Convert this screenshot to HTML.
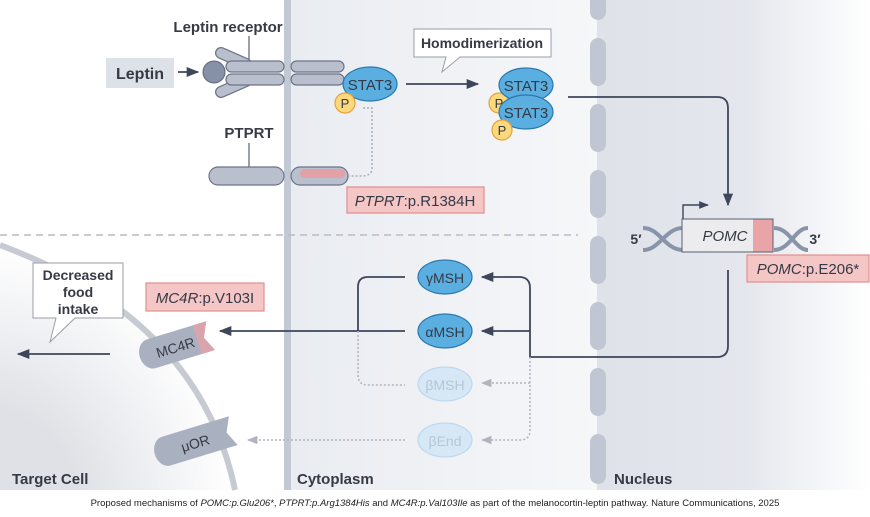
<!DOCTYPE html>
<html><head><meta charset="utf-8"><style>
html,body{margin:0;padding:0;background:#fff}
svg{display:block}
text{font-family:"Liberation Sans",sans-serif;fill:#353a45}
</style></head><body>
<svg width="870" height="517" viewBox="0 0 870 517" xmlns="http://www.w3.org/2000/svg">
<defs>
<linearGradient id="cyto" x1="0" x2="1"><stop offset="0" stop-color="#e9ecf1"/><stop offset="1" stop-color="#f6f7f9"/></linearGradient>
<linearGradient id="nuc" x1="0" x2="1"><stop offset="0" stop-color="#dfe2e9"/><stop offset="0.55" stop-color="#e4e7ed"/><stop offset="1" stop-color="#ffffff"/></linearGradient>
<radialGradient id="cell" cx="-0.1" cy="1.1" r="1.1"><stop offset="0.4" stop-color="#dfe1e6"/><stop offset="1" stop-color="#ffffff"/></radialGradient>
<marker id="ah" viewBox="0 0 10 10" refX="9" refY="5" markerWidth="7" markerHeight="7" orient="auto"><path d="M0,1 L10,5 L0,9 z" fill="#3d4759"/></marker>
<marker id="ahg" viewBox="0 0 10 10" refX="9" refY="5" markerWidth="7" markerHeight="7" orient="auto"><path d="M0,1 L10,5 L0,9 z" fill="#b0b4bc"/></marker>
</defs>
<rect x="0" y="0" width="870" height="517" fill="#fff"/>
<path d="M0 245 Q200 320 235 490 L0 490 Z" fill="url(#cell)"/>
<path d="M0 245 Q200 320 235 490" fill="none" stroke="#c6cad2" stroke-width="6"/>
<rect x="290" y="0" width="310" height="490" fill="url(#cyto)"/>
<rect x="284" y="0" width="7" height="490" fill="#c3c9d4"/>
<rect x="597" y="0" width="273" height="490" fill="url(#nuc)"/>
<g fill="#c0c7d3">
<rect x="590" y="-10" width="16" height="30" rx="8"/>
<rect x="590" y="38" width="16" height="48" rx="8"/>
<rect x="590" y="104" width="16" height="48" rx="8"/>
<rect x="590" y="170" width="16" height="48" rx="8"/>
<rect x="590" y="236" width="16" height="48" rx="8"/>
<rect x="590" y="302" width="16" height="48" rx="8"/>
<rect x="590" y="368" width="16" height="48" rx="8"/>
<rect x="590" y="434" width="16" height="50" rx="8"/>
</g>
<line x1="0" y1="235" x2="578" y2="235" stroke="#b9bcc3" stroke-width="1.5" stroke-dasharray="7,5"/>

<text x="228" y="32" font-size="15" text-anchor="middle" font-weight="bold">Leptin receptor</text>
<line x1="249" y1="36" x2="249" y2="66" stroke="#5b6070" stroke-width="1.2"/>
<rect x="106" y="58" width="68" height="30" fill="#dde1e8"/>
<text x="140" y="79" font-size="16" text-anchor="middle" font-weight="bold">Leptin</text>
<line x1="178" y1="72" x2="198" y2="72" stroke="#3d4759" stroke-width="1.8" marker-end="url(#ah)"/>
<g stroke-linecap="round">
<line x1="221" y1="53" x2="246" y2="64" stroke="#6c7488" stroke-width="12"/>
<line x1="221" y1="53" x2="246" y2="64" stroke="#b9bfcc" stroke-width="9.5"/>
<line x1="221" y1="92" x2="246" y2="81" stroke="#6c7488" stroke-width="12"/>
<line x1="221" y1="92" x2="246" y2="81" stroke="#b9bfcc" stroke-width="9.5"/>
</g>
<g fill="#b9bfcc" stroke="#6c7488" stroke-width="1.2">
<rect x="226" y="61" width="58" height="11" rx="5.5"/>
<rect x="226" y="74" width="58" height="11" rx="5.5"/>
<rect x="291" y="61" width="53" height="11" rx="5.5"/>
<rect x="291" y="74" width="53" height="11" rx="5.5"/>
</g>
<circle cx="214" cy="72" r="11" fill="#8690a6" stroke="#5e667a" stroke-width="1"/>
<ellipse cx="370" cy="84" rx="27" ry="17" fill="#5aaee0" stroke="#2a78b0" stroke-width="1.2"/>
<text x="370" y="90" font-size="15" text-anchor="middle">STAT3</text>
<circle cx="345" cy="103" r="10" fill="#fcd97c" stroke="#e5a23c" stroke-width="1.2"/>
<text x="345" y="108" font-size="13" text-anchor="middle">P</text>
<path d="M363 108 H372 V168 Q372 176 362 176 H348" fill="none" stroke="#a9adb5" stroke-width="1.5" stroke-dasharray="2,2"/>
<text x="249" y="138" font-size="15" text-anchor="middle" font-weight="bold">PTPRT</text>
<line x1="249" y1="143" x2="249" y2="173" stroke="#5b6070" stroke-width="1.2"/>
<rect x="209" y="167" width="75" height="18" rx="9" fill="#b9bfcc" stroke="#6c7488" stroke-width="1.2"/>
<rect x="291" y="167" width="57" height="18" rx="9" fill="#b9bfcc" stroke="#6c7488" stroke-width="1.2"/>
<rect x="300" y="169" width="45" height="9" rx="4.5" fill="#e3a0a6"/>
<rect x="347" y="187" width="137" height="26" fill="#f4c6c6" stroke="#e28e8e" stroke-width="1.2"/>
<text x="415" y="206" font-size="15" text-anchor="middle"><tspan font-style="italic">PTPRT</tspan>:p.R1384H</text>
<path d="M414 29 H551 V57 H460 L442 72 L446 57 H414 Z" fill="#fff" stroke="#9a9ea6" stroke-width="1"/>
<text x="482" y="48" font-size="14" text-anchor="middle" font-weight="bold">Homodimerization</text>
<line x1="406" y1="84" x2="478" y2="84" stroke="#3d4759" stroke-width="1.8" marker-end="url(#ah)"/>
<circle cx="499" cy="103" r="10" fill="#fcd97c" stroke="#e5a23c" stroke-width="1.2"/>
<ellipse cx="526" cy="85" rx="27" ry="17" fill="#5aaee0" stroke="#2a78b0" stroke-width="1.2"/>
<text x="526" y="91" font-size="15" text-anchor="middle">STAT3</text>
<text x="499" y="108" font-size="13" text-anchor="middle">P</text>
<ellipse cx="526" cy="112" rx="27" ry="17" fill="#5aaee0" stroke="#2a78b0" stroke-width="1.2"/>
<text x="526" y="118" font-size="15" text-anchor="middle">STAT3</text>
<circle cx="502" cy="130" r="10" fill="#fcd97c" stroke="#e5a23c" stroke-width="1.2"/>
<text x="502" y="135" font-size="13" text-anchor="middle">P</text>
<path d="M568 97 H717 Q728 97 728 108 V205" fill="none" stroke="#3d4759" stroke-width="1.8" marker-end="url(#ah)"/>
<text x="636" y="244" font-size="14" font-weight="bold" text-anchor="middle">5′</text>
<path d="M643 228 C660 228 665 250 683 250 M643 250 C660 250 665 228 683 228" fill="none" stroke="#8a94a8" stroke-width="4"/>
<path d="M774 228 C790 228 795 250 808 250 M774 250 C790 250 795 228 808 228" fill="none" stroke="#8a94a8" stroke-width="4"/>
<text x="815" y="244" font-size="14" font-weight="bold" text-anchor="middle">3′</text>
<rect x="682" y="219" width="91" height="33" fill="#ececee" stroke="#5a6070" stroke-width="1"/>
<rect x="753" y="219.5" width="19.5" height="32" fill="#e8a4a6"/>
<text x="725" y="241" font-size="15" font-style="italic" text-anchor="middle">POMC</text>
<path d="M683 219 V205 H708" fill="none" stroke="#3d4759" stroke-width="1.4" marker-end="url(#ah)"/>
<rect x="747" y="255" width="122" height="27" fill="#f4c6c6" stroke="#e28e8e" stroke-width="1.2"/>
<text x="808" y="274" font-size="15" text-anchor="middle"><tspan font-style="italic">POMC</tspan>:p.E206*</text>
<path d="M728 270 V346 Q728 357 717 357 H530 V288 Q530 277 519 277 H482" fill="none" stroke="#3d4759" stroke-width="1.8" marker-end="url(#ah)"/>
<line x1="530" y1="331" x2="482" y2="331" stroke="#3d4759" stroke-width="1.8" marker-end="url(#ah)"/>
<path d="M530 357 V430 Q530 440 520 440 H482" fill="none" stroke="#b0b4bc" stroke-width="1.5" stroke-dasharray="2,2" marker-end="url(#ahg)"/>
<line x1="530" y1="383" x2="482" y2="383" stroke="#b0b4bc" stroke-width="1.5" stroke-dasharray="2,2" marker-end="url(#ahg)"/>
<ellipse cx="445" cy="277" rx="27" ry="17" fill="#5aaee0" stroke="#2a78b0" stroke-width="1.2"/>
<text x="445" y="283" font-size="14" text-anchor="middle">γMSH</text>
<ellipse cx="445" cy="331" rx="27" ry="17" fill="#5aaee0" stroke="#2a78b0" stroke-width="1.2"/>
<text x="445" y="337" font-size="14" text-anchor="middle">αMSH</text>
<ellipse cx="445" cy="384" rx="27" ry="17" fill="#d6e8f5" stroke="#bcd8ee" stroke-width="1.2"/>
<text x="445" y="390" font-size="14" text-anchor="middle" style="fill:#b6c6d4">βMSH</text>
<ellipse cx="445" cy="440" rx="27" ry="17" fill="#d6e8f5" stroke="#bcd8ee" stroke-width="1.2"/>
<text x="445" y="446" font-size="14" text-anchor="middle" style="fill:#b6c6d4">βEnd</text>
<path d="M405 277 H368 Q358 277 358 287 V331" fill="none" stroke="#3d4759" stroke-width="1.8"/>
<line x1="405" y1="331" x2="220" y2="331" stroke="#3d4759" stroke-width="1.8" marker-end="url(#ah)"/>
<path d="M358 331 V375 Q358 385 368 385 H405" fill="none" stroke="#b0b4bc" stroke-width="1.5" stroke-dasharray="2,2"/>
<line x1="405" y1="440" x2="248" y2="440" stroke="#b0b4bc" stroke-width="1.5" stroke-dasharray="2,2" marker-end="url(#ahg)"/>
<g transform="rotate(-17 180 345)">
<path d="M150 330 H212 L205 345 L212 360 H150 A12 15 0 0 1 150 330 Z" fill="#a9b0bf"/>
<path d="M198 330 H212 L205 345 L212 360 H198 Z" fill="#e3a2a8" opacity="0.85"/>
<text x="175" y="351" font-size="14" text-anchor="middle">MC4R</text>
</g>
<rect x="146" y="283" width="118" height="28" fill="#f4c6c6" stroke="#e28e8e" stroke-width="1.2"/>
<text x="205" y="303" font-size="15" text-anchor="middle"><tspan font-style="italic">MC4R</tspan>:p.V103I</text>
<path d="M33 263 H123 V318 H75 L50 342 L56 318 H33 Z" fill="#fff" stroke="#9a9ea6" stroke-width="1"/>
<text x="78" y="280" font-size="14" font-weight="bold" text-anchor="middle">Decreased</text>
<text x="78" y="297" font-size="14" font-weight="bold" text-anchor="middle">food</text>
<text x="78" y="314" font-size="14" font-weight="bold" text-anchor="middle">intake</text>
<line x1="110" y1="354" x2="18" y2="354" stroke="#3d4759" stroke-width="1.8" marker-end="url(#ah)"/>
<g transform="rotate(-17 196 442)">
<path d="M165 427 H235 L228 442 L235 457 H165 A12 15 0 0 1 165 427 Z" fill="#a9b0bf"/>
<text x="195" y="448" font-size="14" text-anchor="middle">μOR</text>
</g>
<text x="12" y="484" font-size="15" font-weight="bold">Target Cell</text>
<text x="297" y="484" font-size="15" font-weight="bold">Cytoplasm</text>
<text x="614" y="484" font-size="15" font-weight="bold">Nucleus</text>
<text x="435" y="506" font-size="9.5" text-anchor="middle" style="fill:#222">Proposed mechanisms of <tspan font-style="italic">POMC:p.Glu206*</tspan>, <tspan font-style="italic">PTPRT:p.Arg1384His</tspan> and <tspan font-style="italic">MC4R:p.Val103Ile</tspan> as part of the melanocortin-leptin pathway. Nature Communications, 2025</text>
</svg>
</body></html>
